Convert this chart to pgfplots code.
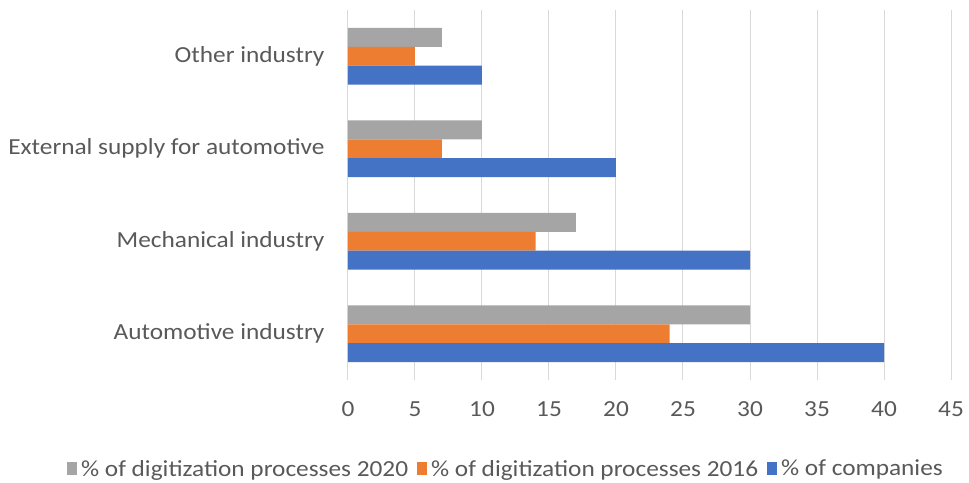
\documentclass[border=0pt]{standalone}
\usepackage{pgfplots}
\pgfplotsset{compat=1.18}
\usepackage{fontspec}
\setmainfont[FakeStretch=1.1]{Carlito}
\usetikzlibrary{calc}
\definecolor{cgray}{HTML}{A5A5A5}
\definecolor{corange}{HTML}{ED7D31}
\definecolor{cblue}{HTML}{4472C4}
\definecolor{ctext}{HTML}{595959}
\definecolor{cgrid}{HTML}{D9D9D9}
\begin{document}
\begin{tikzpicture}
\begin{axis}[
  name=ax,
  scale only axis,
  width=603pt, height=370pt,
  xbar,
  xmin=0, xmax=45,
  ymin=-0.5, ymax=3.5,
  xtick={0,5,...,45},
  ytick={0,1,2,3},
  yticklabels={Automotive industry, Mechanical industry, External supply for automotive, Other industry},
  bar width=0.205,
  axis line style={draw=none},
  major tick length=0pt,
  xmajorgrids=true,
  grid style={cgrid, line width=1pt},
  tick label style={font=\fontsize{23}{26}\selectfont, text=ctext},
  xticklabel style={yshift=-18pt},
  yticklabel style={xshift=-20pt},
  /pgf/number format/assume math mode=true,
  legend style={at={(0.262,-0.24)}, anchor=center, draw=none, fill=none,
    legend columns=-1, font=\fontsize{23}{26}\selectfont, text=ctext,
    /tikz/every odd column/.append style={column sep=2pt},
    /tikz/every even column/.append style={column sep=7pt}},
  legend image code/.code={\fill[#1] (0pt,-6.5pt) rectangle (10pt,6.5pt);},
  legend cell align=left,
]
\addplot[fill=cgray, draw=none, bar shift=0.205] coordinates {(30,0) (17,1) (10,2) (7,3)};
\addplot[fill=corange, draw=none, bar shift=0] coordinates {(24,0) (14,1) (7,2) (5,3)};
\addplot[fill=cblue, draw=none, bar shift=-0.205] coordinates {(40,0) (30,1) (20,2) (10,3)};
\legend{\% of digitization processes 2020, \% of digitization processes 2016, \% of companies}
\end{axis}
\pgfresetboundingbox
\path[use as bounding box] ($(ax.south west)+(-348pt,-103pt)$) rectangle ($(ax.north east)+(18pt,10pt)$);
\end{tikzpicture}
\end{document}
